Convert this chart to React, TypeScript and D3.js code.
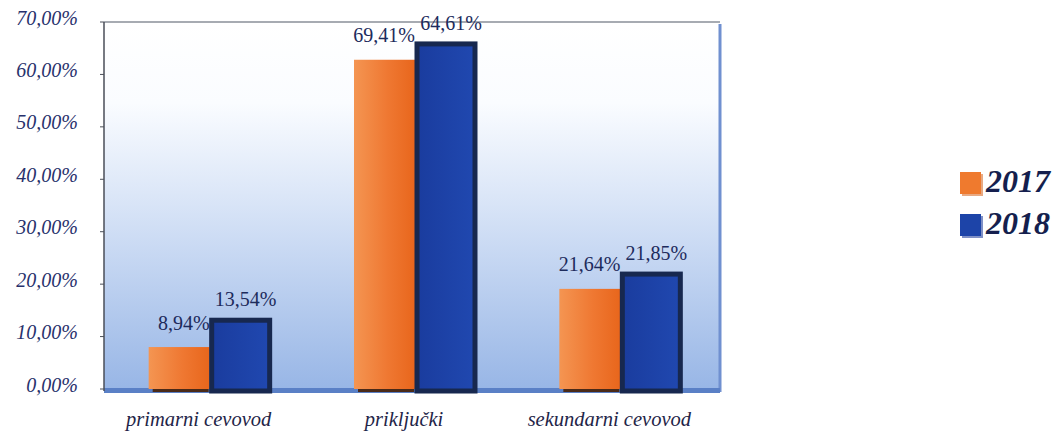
import React from "react";
import * as d3 from "d3";

const categories = ["primarni cevovod", "priključki", "sekundarni cevovod"];
const series = ["2017", "2018"];
// bar heights as drawn in the picture (percent)
const values2017 = [8.0, 62.8, 19.1];
const values2018 = [13.5, 66.2, 22.3];
// data labels as printed
const labels2017 = ["8,94%", "69,41%", "21,64%"];
const labels2018 = ["13,54%", "64,61%", "21,85%"];
const yTicks = [0, 10, 20, 30, 40, 50, 60, 70];

const W = 1056;
const H = 432;
const plot = { left: 104, right: 720, top: 22, bottom: 389 };
const SERIF = "'Liberation Serif', 'Times New Roman', Times, serif";

export default function App() {
  const x = d3.scaleBand<string>().domain(categories).range([plot.left, plot.right]).padding(0);
  const sub = d3.scaleBand<string>().domain(series).range([-58, 66]).padding(0);
  const y = d3.scaleLinear().domain([0, 70]).range([plot.bottom, plot.top]);
  const fmt = (v: number) => d3.format(".2f")(v).replace(".", ",") + "%";
  const navy = "#27316c";

  return (
    <svg width={W} height={H} style={{ position: "absolute", left: 0, top: 0 }}>
      <defs>
        <linearGradient id="bg" x1="0" y1="0" x2="0" y2="1">
          <stop offset="0%" stopColor="#ffffff" />
          <stop offset="22%" stopColor="#fafcff" />
          <stop offset="50%" stopColor="#d8e4f7" />
          <stop offset="100%" stopColor="#98b6e6" />
        </linearGradient>
        <linearGradient id="orange" x1="0" y1="0" x2="1" y2="0">
          <stop offset="0%" stopColor="#f49552" />
          <stop offset="55%" stopColor="#ef7832" />
          <stop offset="100%" stopColor="#e8661c" />
        </linearGradient>
        <linearGradient id="blue" x1="0" y1="0" x2="1" y2="0">
          <stop offset="0%" stopColor="#1a3c9e" />
          <stop offset="100%" stopColor="#2048b0" />
        </linearGradient>
      </defs>
      <rect x={0} y={0} width={W} height={H} fill="#ffffff" />
      <rect x={plot.left} y={plot.top} width={plot.right - plot.left} height={plot.bottom - plot.top} fill="url(#bg)" />
      <line x1={plot.left} x2={plot.right} y1={plot.top} y2={plot.top} stroke="#8a8f98" strokeWidth={1.5} />
      <line x1={plot.right} x2={plot.right} y1={plot.top + 2} y2={plot.bottom + 3} stroke="#7090d0" strokeWidth={3} />
      <rect x={plot.left} y={plot.bottom - 1} width={plot.right - plot.left} height={5} fill="#5a80c6" />
      <line x1={plot.left} x2={plot.left} y1={plot.top} y2={plot.bottom + 2} stroke="#4a4e58" strokeWidth={1.5} />
      {yTicks.map((t) => (
        <g key={t}>
          <line x1={plot.left - 4} x2={plot.left} y1={y(t)} y2={y(t)} stroke="#4a4e58" strokeWidth={1} />
          <text
            x={78}
            y={y(t) - 2}
            textAnchor="end"
            dominantBaseline="middle"
            fontFamily={SERIF}
            fontStyle="italic"
            fontSize={20}
            fill={navy}
          >
            {fmt(t)}
          </text>
        </g>
      ))}
      {categories.map((c, i) => {
        const cx = (x(c) as number) + x.bandwidth() / 2;
        const ox = cx + (sub("2017") as number);
        const bx = cx + (sub("2018") as number);
        const bw = sub.bandwidth();
        const oy = y(values2017[i]);
        const by = y(values2018[i]);
        return (
          <g key={c}>
            <rect x={ox} y={oy} width={bw - 1} height={plot.bottom - oy} fill="url(#orange)" />
            <rect x={ox + 4} y={plot.bottom} width={bw - 6} height={3} fill="#4a2a18" />
            <rect
              x={bx + 1}
              y={by + 2}
              width={bw - 4}
              height={plot.bottom - by}
              fill="url(#blue)"
              stroke="#17284f"
              strokeWidth={5}
            />
            <text
              x={ox + bw - 1}
              y={oy - 22}
              textAnchor="end"
              dominantBaseline="middle"
              fontFamily={SERIF}
              fontSize={20}
              fill="#1d2b5c"
            >
              {labels2017[i]}
            </text>
            <text
              x={bx + bw / 2 + 4}
              y={by - 17}
              textAnchor="middle"
              dominantBaseline="middle"
              fontFamily={SERIF}
              fontSize={20}
              fill="#1d2b5c"
            >
              {labels2018[i]}
            </text>
            <text
              x={cx - 8}
              y={421}
              textAnchor="middle"
              dominantBaseline="middle"
              fontFamily={SERIF}
              fontStyle="italic"
              fontSize={20.5}
              fill="#1f2548"
            >
              {c}
            </text>
          </g>
        );
      })}
      {series.map((s, i) => (
        <g key={s} transform={`translate(960, ${172 + i * 42})`}>
          <rect x={2} y={2} width={21} height={22} fill={i === 0 ? "#d8702e" : "#2a46a0"} opacity={0.6} />
          <rect x={0} y={0} width={21} height={22} fill={i === 0 ? "#ef7a2e" : "#1d44a8"} />
          <text
            x={26}
            y={13}
            dominantBaseline="middle"
            fontFamily={SERIF}
            fontStyle="italic"
            fontWeight="bold"
            fontSize={32}
            fill="#151f4e"
          >
            {s}
          </text>
        </g>
      ))}
    </svg>
  );
}
